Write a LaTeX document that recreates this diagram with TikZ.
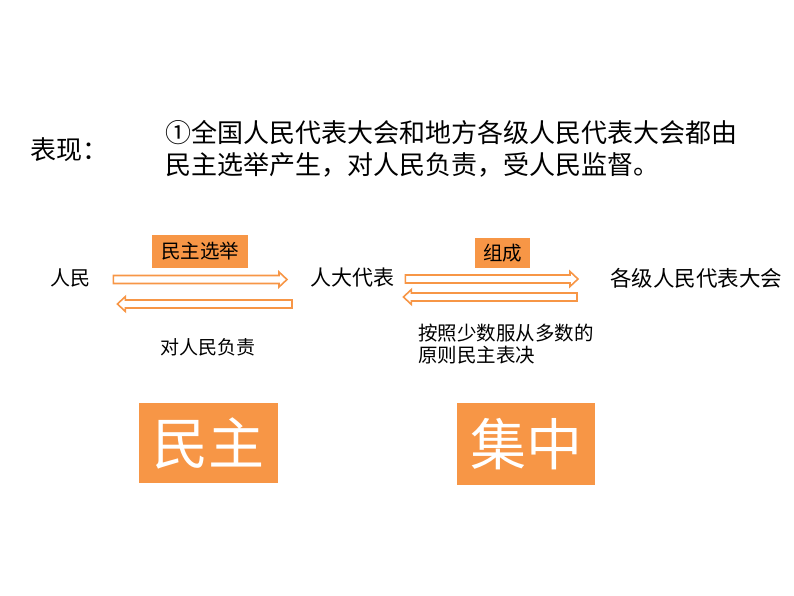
\documentclass[tikz,border=0pt]{standalone}
\usepackage{fontspec}
\usepackage{tikz}
\usetikzlibrary{positioning,calc}
\newfontfamily\cjk{Noto Sans CJK SC}
\definecolor{orng}{HTML}{F79646}
% hollow block arrow from #1 to #2 (horizontal)
\newcommand{\hollowarrow}[2]{%
\draw[hollow] let \p1=(#1), \p2=(#2), \n1={sign(\x2-\x1)} in
  (\x1,\y1+4pt) -- (\x2-8pt*\n1,\y1+4pt) -- (\x2-8pt*\n1,\y1+7.5pt) -- (\x2,\y1)
  -- (\x2-8pt*\n1,\y1-7.5pt) -- (\x2-8pt*\n1,\y1-4pt) -- (\x1,\y1-4pt) -- cycle;}

\begin{document}
\begin{tikzpicture}[x=1pt,y=-1pt,font=\cjk,
lbl/.style={inner sep=0pt,anchor=west},
tagbox/.style={fill=orng,inner sep=0pt,text=black},
bigbox/.style={fill=orng,inner sep=0pt,text=white,font=\cjk\fontsize{56}{60}\selectfont},
hollow/.style={draw=orng,line width=1.6pt,fill=white,line join=miter}]
\useasboundingbox (0,0) rectangle (794,596);
\node (title) [lbl,anchor=base west,font=\cjk\fontsize{26}{32}\selectfont] at (30,160) {表现：};
\node (lineone) [lbl,anchor=base west,font=\cjk\fontsize{26}{32}\selectfont] at (165,143) {①全国人民代表大会和地方各级人民代表大会都由};
\node (linetwo) [lbl,anchor=base west,font=\cjk\fontsize{26}{32}\selectfont] at (165,175) {民主选举产生，对人民负责，受人民监督。};
% flow
\node (people) [lbl,font=\cjk\fontsize{20}{24}\selectfont] at (50,278) {人民};
\node (deputy) [lbl,font=\cjk\fontsize{21}{24}\selectfont] at (310,278) {人大代表};
\node (congress) [lbl,font=\cjk\fontsize{21.5}{24}\selectfont] at (610,278) {各级人民代表大会};
\node (elect) [tagbox,minimum width=96pt,minimum height=33pt,font=\cjk\fontsize{19.5}{22}\selectfont] at (200,251.5) {民主选举};
\node (form) [tagbox,minimum width=55pt,minimum height=30pt,font=\cjk\fontsize{19.5}{22}\selectfont] at (502.5,253) {组成};
\coordinate (upa) at ($(people.east)+(23,1.5)$);
\coordinate (upb) at ($(deputy.west)+(-23,1.5)$);
\coordinate (lowa) at ($(deputy.west)+(-18,26)$);
\coordinate (lowb) at ($(people.east)+(27,26)$);
\coordinate (upc) at ($(deputy.east)+(11,1)$);
\coordinate (upd) at ($(congress.west)+(-32,1)$);
\coordinate (lowc) at ($(congress.west)+(-33,19)$);
\coordinate (lowd) at ($(deputy.east)+(9,19)$);
\hollowarrow{upa}{upb}
\hollowarrow{lowa}{lowb}
\hollowarrow{upc}{upd}
\hollowarrow{lowc}{lowd}
\node (respons) [lbl,font=\cjk\fontsize{19}{22}\selectfont] at (160,347) {对人民负责};
\node (majority) [lbl,align=left,font=\cjk\fontsize{19.5}{22}\selectfont] at (418,344) {按照少数服从多数的\\原则民主表决};
% bottom
\node (democ) [bigbox,minimum width=139pt,minimum height=80pt] at (208,443) {民主};
\node (central) [bigbox,minimum width=138pt,minimum height=82pt] at (526,444) {集中};
\end{tikzpicture}
\end{document}
